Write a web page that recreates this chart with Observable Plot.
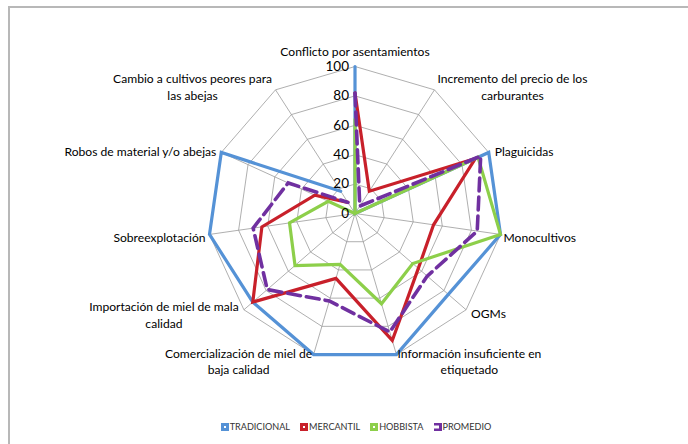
<!DOCTYPE html>
<html>
<head>
<meta charset="utf-8">
<script src="https://cdn.jsdelivr.net/npm/d3@7"></script>
<script src="https://cdn.jsdelivr.net/npm/@observablehq/plot@0.6"></script>
<style>
  html, body { margin: 0; padding: 0; background: #fff; }
  body { position: relative; width: 688px; height: 444px; overflow: hidden; font-family: Lato, "Open Sans", sans-serif; }
  #frame { position: absolute; left: 8px; top: 6px; right: -4px; bottom: -4px; border-left: 2px solid #b8b8b8; border-top: 2px solid #b8b8b8; }
  #chart { position: absolute; left: 0; top: 0; }
  #legend { position: absolute; left: 0; top: 421px; width: 688px; display: flex; justify-content: center; gap: 10px; font-size: 9.1px; color: #333; padding-left: 24px; box-sizing: border-box; }
  #legend .item { display: flex; align-items: center; }
  #legend svg { margin-right: 1px; }
</style>
</head>
<body>
<div id="frame"></div>
<div id="chart"></div>
<div id="legend"></div>
<script>
const categories = [
  "Conflicto por asentamientos",
  "Incremento del precio de los\ncarburantes",
  "Plaguicidas",
  "Monocultivos",
  "OGMs",
  "Información insuficiente en\netiquetado",
  "Comercialización de miel de\nbaja calidad",
  "Importación de miel de mala\ncalidad",
  "Sobreexplotación",
  "Robos de material y/o abejas",
  "Cambio a cultivos peores para\nlas abejas"
];
const seriesNames = ["TRADICIONAL", "MERCANTIL", "HOBBISTA", "PROMEDIO"];
const tradicional = [100, 0, 100, 100, 84, 100, 100, 92, 100, 100, 18];
const mercantil   = [82, 18, 90, 54, 57, 90, 46, 92, 64, 30, 9];
const hobbista    = [64, 0, 92, 100, 52, 64, 36, 54, 45, 20, 0];
const promedio    = [82, 6, 94, 84, 65, 84, 62, 79, 70, 50, 9];
const tickValues  = [0, 20, 40, 60, 80, 100];
const colors = ["#5592d6", "#c8202a", "#8dcf4a", "#7030a0"];

const n = categories.length;
const ang = i => i * 2 * Math.PI / n;
const px = (v, i) => v * Math.sin(ang(i));
const py = (v, i) => v * Math.cos(ang(i));

const seriesValues = [tradicional, mercantil, hobbista, promedio];
const linesData = seriesValues.map((vals, s) =>
  vals.map((v, i) => ({series: seriesNames[s], i, x: px(v, i), y: py(v, i)})));

const rings = tickValues.filter(t => t > 0).flatMap(t =>
  d3.range(n + 1).map(i => ({ring: t, x: px(t, i % n), y: py(t, i % n)})));
const spokes = categories.map((c, i) => ({x2: px(100, i), y2: py(100, i)}));

// label offsets (style) per axis: [anchor, dx, dy]
const labelStyle = [
  ["middle", 0, -16], ["middle", 78, -4], ["start", 6, -2], ["start", 3, 2],
  ["start", 5, 3], ["middle", 73, 6], ["middle", -75, 6], ["middle", -80, 4.5],
  ["end", -4, 2], ["end", -5, -2], ["middle", -83, -4]
];
const labelMarks = categories.map((c, i) => Plot.text([{c, x: px(100, i), y: py(100, i)}], {
  x: "x", y: "y", text: "c", textAnchor: labelStyle[i][0], dx: labelStyle[i][1], dy: labelStyle[i][2],
  lineAnchor: "middle", lineHeight: 1.38, fill: "#000", fontSize: 12.1
}));

const chart = Plot.plot({
  width: 688, height: 412, margin: 0,
  x: {domain: [-241.16, 226.87], axis: null},
  y: {domain: [-135.37, 144.9], axis: null},
  style: {fontFamily: "Lato, 'Open Sans', sans-serif", background: "transparent"},
  marks: [
    Plot.line(rings, {x: "x", y: "y", z: "ring", stroke: "#9a9a9a", strokeWidth: 0.8}),
    Plot.link(spokes, {x1: 0, y1: 0, x2: "x2", y2: "y2", stroke: "#9a9a9a", strokeWidth: 0.8}),
    ...linesData.slice(0, 3).map((d, s) => Plot.line(d, {x: "x", y: "y", stroke: colors[s], strokeWidth: 3.2, strokeLinejoin: "miter", strokeMiterlimit: 10})),
    Plot.line(linesData[3], {x: "x", y: "y", stroke: colors[3], strokeWidth: 3.6, strokeDasharray: "13,6", strokeLinejoin: "miter", strokeMiterlimit: 10}),
    Plot.text(tickValues, {x: 0, y: d => d, text: d => String(d), textAnchor: "end", dx: -6, fill: "#000", fontSize: 13.5}),
    ...labelMarks
  ]
});
document.getElementById("chart").appendChild(chart);

const legend = document.getElementById("legend");
seriesNames.forEach((name, s) => {
  const item = document.createElement("div");
  item.className = "item";
  const icon = s < 3
    ? `<svg width="8" height="8"><rect x="0" y="0" width="8" height="8" fill="${colors[s]}"/><rect x="3" y="3" width="2" height="2" fill="#fff"/></svg>`
    : `<svg width="8" height="8"><path d="M0,0H8V8H0V5.5H5V2.5H0Z" fill="${colors[s]}"/></svg>`;
  item.innerHTML = icon + `<span>${name}</span>`;
  legend.appendChild(item);
});
</script>
</body>
</html>
